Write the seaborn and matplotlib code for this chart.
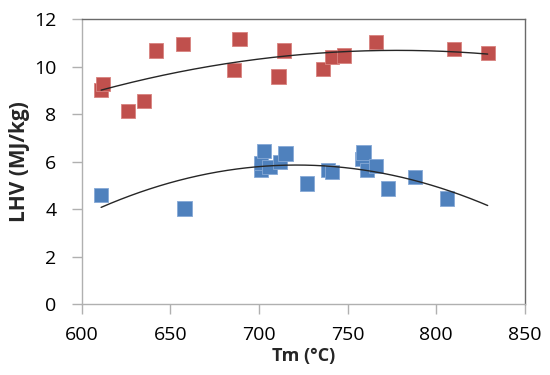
import numpy as np
import pandas as pd
import matplotlib
matplotlib.use("Agg")
import matplotlib.pyplot as plt
import seaborn as sns

# values
red_tm = [611, 612, 626, 635, 642, 657, 686, 689, 711, 714, 736, 741, 748, 766, 810, 829]
red_lhv = [9.02, 9.27, 8.14, 8.55, 10.67, 10.95, 9.84, 11.16, 9.58, 10.67, 9.91, 10.40, 10.46, 11.04, 10.74, 10.57]

blue_tm = [611, 658, 701, 701, 703, 706, 712, 715, 727, 739, 741, 758, 759, 761, 766, 773, 788, 806]
blue_lhv = [4.58, 4.02, 5.64, 5.95, 6.44, 5.78, 5.99, 6.34, 5.07, 5.64, 5.57, 6.09, 6.38, 5.64, 5.81, 4.86, 5.35, 4.44]

df = pd.DataFrame({
    "Tm": red_tm + blue_tm,
    "LHV": red_lhv + blue_lhv,
    "set": ["red"] * len(red_tm) + ["blue"] * len(blue_tm),
})

sns.set_style("white")
plt.rcParams["font.family"] = ["Open Sans", "DejaVu Sans"]

fig = plt.figure(figsize=(5.5, 3.75), dpi=100)
ax = fig.add_axes([0.1484, 0.1893, 0.806, 0.76])

sns.scatterplot(data=df, x="Tm", y="LHV", hue="set", marker="s", s=105,
                palette={"red": "#C0504D", "blue": "#4F81BD"},
                linewidth=0.6, legend=False, ax=ax, zorder=3)
# lighter edges like the Excel markers
edge = {"red": "#d8837f", "blue": "#86a9d6"}
ax.collections[0].set_edgecolor([edge[s] for s in df["set"]])

# second order polynomial trend lines over the whole temperature range
xs = np.linspace(min(df["Tm"]), max(df["Tm"]), 200)
for tm, lhv in [(red_tm, red_lhv), (blue_tm, blue_lhv)]:
    c = np.polyfit(tm, lhv, 2)
    ax.plot(xs, np.polyval(c, xs), color="#262626", lw=1.0, zorder=4)

ax.set_xlim(600, 850)
ax.set_ylim(0, 12)
ax.set_xticks(range(600, 851, 50))
ax.set_yticks(range(0, 13, 2))

for side in ["left", "bottom"]:
    ax.spines[side].set_color("#b0b0b0")
    ax.spines[side].set_linewidth(1.0)
for side in ["top", "right"]:
    ax.spines[side].set_color("#6a6a6a")
    ax.spines[side].set_linewidth(1.0)

ax.tick_params(axis="both", which="major", direction="out", length=7, width=1,
               color="#b0b0b0", labelsize=14, labelcolor="#000000")
ax.tick_params(axis="x", pad=9)
ax.tick_params(axis="y", pad=11)
ax.tick_params(left=True, bottom=True)

ax.set_xlabel("Tm (°C)", fontsize=13, fontweight="bold", labelpad=2)
ax.set_ylabel("LHV (MJ/kg)", fontsize=15, fontweight="bold", labelpad=3)

fig.savefig("out.png", dpi=100)
